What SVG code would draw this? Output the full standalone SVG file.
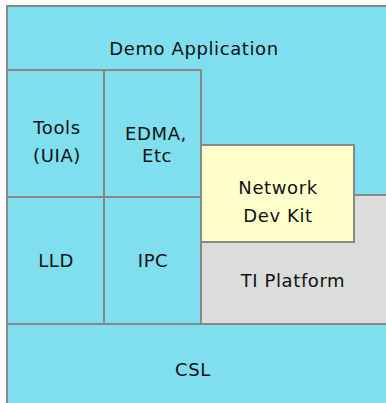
<svg xmlns="http://www.w3.org/2000/svg" width="386" height="403" viewBox="0 0 386 403">
<style>
.b{stroke:#888888;stroke-width:2}
.c{fill:#7FDFEE}
.y{fill:#FFFFCC}
.g{fill:#DCDCDC}
text{font-family:"DejaVu Sans","Liberation Sans",sans-serif;font-size:18px;letter-spacing:0.6px;fill:#111111;text-anchor:middle}
</style>
<rect width="386" height="403" fill="#ffffff"/>
<g id="demo"><rect class="b c" x="7" y="6" width="380" height="410"/><text x="194" y="55">Demo Application</text></g>
<g id="tools"><rect class="b c" x="7" y="70" width="97" height="127"/><text x="57" y="134">Tools</text><text x="57" y="162">(UIA)</text></g>
<g id="edma"><rect class="b c" x="104" y="70" width="97" height="127"/><text x="156" y="140">EDMA,</text><text x="157" y="162">Etc</text></g>
<g id="lld"><rect class="b c" x="7" y="197" width="97" height="127"/><text x="56" y="267">LLD</text></g>
<g id="ipc"><rect class="b c" x="104" y="197" width="97" height="127"/><text x="153" y="267">IPC</text></g>
<g id="tiplatform"><rect class="b g" x="201" y="195" width="186" height="129"/><text x="293" y="287">TI Platform</text></g>
<g id="ndk"><rect class="b y" x="201" y="145" width="153" height="97"/><text x="278" y="194">Network</text><text x="278" y="222">Dev Kit</text></g>
<g id="csl"><rect class="b c" x="7" y="324" width="380" height="92"/><text x="193" y="376">CSL</text></g>
<g id="connectors"/>
</svg>
